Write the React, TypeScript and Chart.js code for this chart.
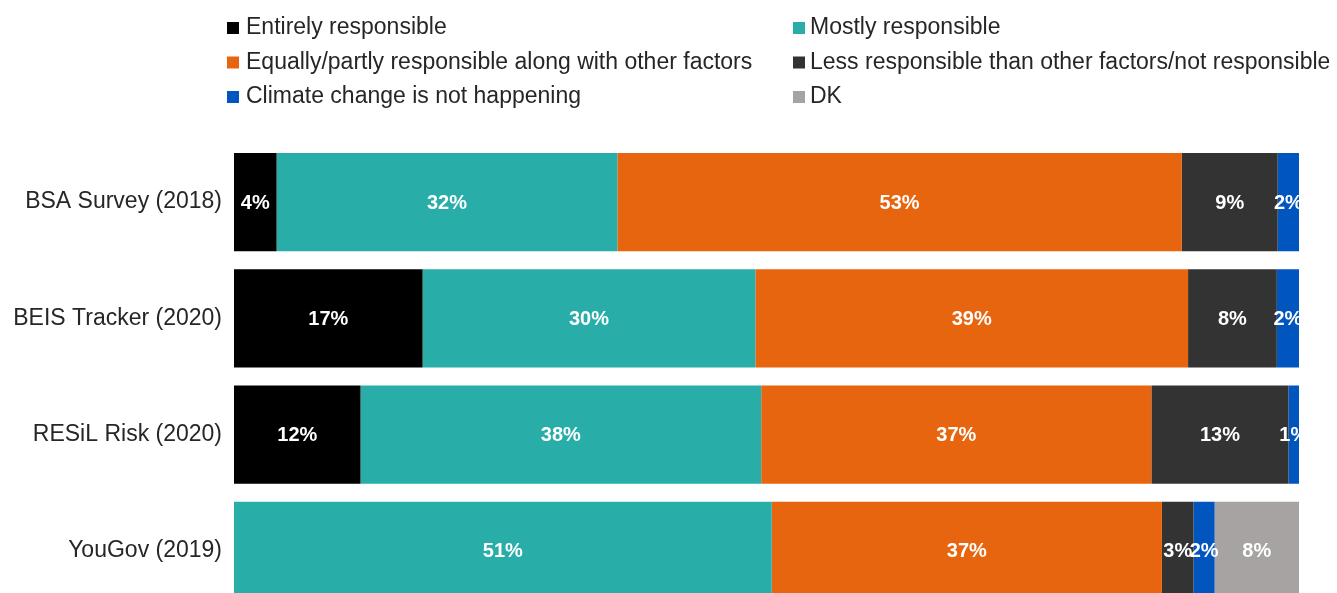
import React, { useEffect, useRef } from "react";
import { Chart, registerables } from "chart.js";

Chart.register(...registerables);

const categories = ["BSA Survey (2018)", "BEIS Tracker (2020)", "RESiL Risk (2020)", "YouGov (2019)"];
const seriesNames = [
  "Entirely responsible",
  "Mostly responsible",
  "Equally/partly responsible along with other factors",
  "Less responsible than other factors/not responsible",
  "Climate change is not happening",
  "DK",
];
const entirely = [4, 17, 12, 0];
const mostly = [32, 30, 38, 51];
const equally = [53, 39, 37, 37];
const lessResp = [9, 8, 13, 3];
const notHappening = [2, 2, 1, 2];
const dk = [0, 0, 0, 8];
const colors = ["#000000", "#29ADA8", "#E8650F", "#333333", "#0055BF", "#A6A3A2"];

const FONT = "'Liberation Sans', Arial, sans-serif";

const legendPlugin = {
  id: "twoColLegend",
  afterDraw(chart: any) {
    const ctx = chart.ctx;
    const ds = chart.data.datasets;
    const markerX = [219, 785];
    const textX = [238, 802];
    const rowY = [20, 54.5, 89];
    ctx.save();
    ctx.font = `23px ${FONT}`;
    ctx.textBaseline = "middle";
    ctx.textAlign = "left";
    ds.forEach((d: any, i: number) => {
      const col = i % 2;
      const row = Math.floor(i / 2);
      ctx.fillStyle = d.backgroundColor;
      ctx.fillRect(markerX[col], rowY[row] - 6, 12, 12);
      ctx.fillStyle = "#262626";
      ctx.fillText(d.label, textX[col], rowY[row]);
    });
    ctx.restore();
  },
};

const labelPlugin = {
  id: "segLabels",
  afterDatasetsDraw(chart: any) {
    const ctx = chart.ctx;
    const area = chart.chartArea;
    ctx.save();
    ctx.beginPath();
    ctx.rect(area.left, area.top, area.right - area.left, area.bottom - area.top);
    ctx.clip();
    ctx.font = `bold 20px ${FONT}`;
    ctx.fillStyle = "#FFFFFF";
    ctx.textAlign = "center";
    ctx.textBaseline = "middle";
    chart.data.datasets.forEach((d: any, di: number) => {
      const meta = chart.getDatasetMeta(di);
      meta.data.forEach((bar: any, i: number) => {
        const raw = d.rawValues[i];
        if (!raw) return;
        const x0 = Math.min(bar.x, bar.base);
        const x1 = Math.max(bar.x, bar.base);
        ctx.fillText(`${raw}%`, (x0 + x1) / 2, bar.y + 1);
      });
    });
    ctx.restore();
  },
};

export default function App() {
  const ref = useRef<HTMLCanvasElement>(null);
  useEffect(() => {
    const all = [entirely, mostly, equally, lessResp, notHappening, dk];
    const totals = categories.map((_, i) => all.reduce((s, arr) => s + arr[i], 0));
    const datasets = all.map((arr, k) => ({
      label: seriesNames[k],
      data: arr.map((v, i) => (v / totals[i]) * 100),
      rawValues: arr,
      backgroundColor: colors[k],
      borderWidth: 0,
      barPercentage: 0.845,
      categoryPercentage: 1,
    }));
    const chart = new Chart(ref.current as HTMLCanvasElement, {
      type: "bar",
      data: { labels: categories, datasets: datasets as any },
      options: {
        indexAxis: "y",
        responsive: true,
        maintainAspectRatio: false,
        animation: false,
        layout: { padding: { top: 136, right: 30, left: 0, bottom: 0 } },
        plugins: { legend: { display: false }, tooltip: { enabled: false } },
        scales: {
          x: { stacked: true, min: 0, max: 100, display: false },
          y: {
            stacked: true,
            grid: { display: false, drawTicks: false },
            border: { display: false },
            ticks: { color: "#262626", font: { family: FONT, size: 23 }, padding: 12 },
            afterFit: (s: any) => {
              s.width = 226;
              s.paddingTop = 0;
              s.paddingBottom = 0;
            },
          },
        },
      },
      plugins: [legendPlugin, labelPlugin],
    });
    return () => chart.destroy();
  }, []);
  return (
    <div style={{ height: 585, overflow: "hidden" }}>
      <div style={{ position: "relative", width: 1321, height: 601 }}>
        <canvas ref={ref} />
      </div>
    </div>
  );
}
